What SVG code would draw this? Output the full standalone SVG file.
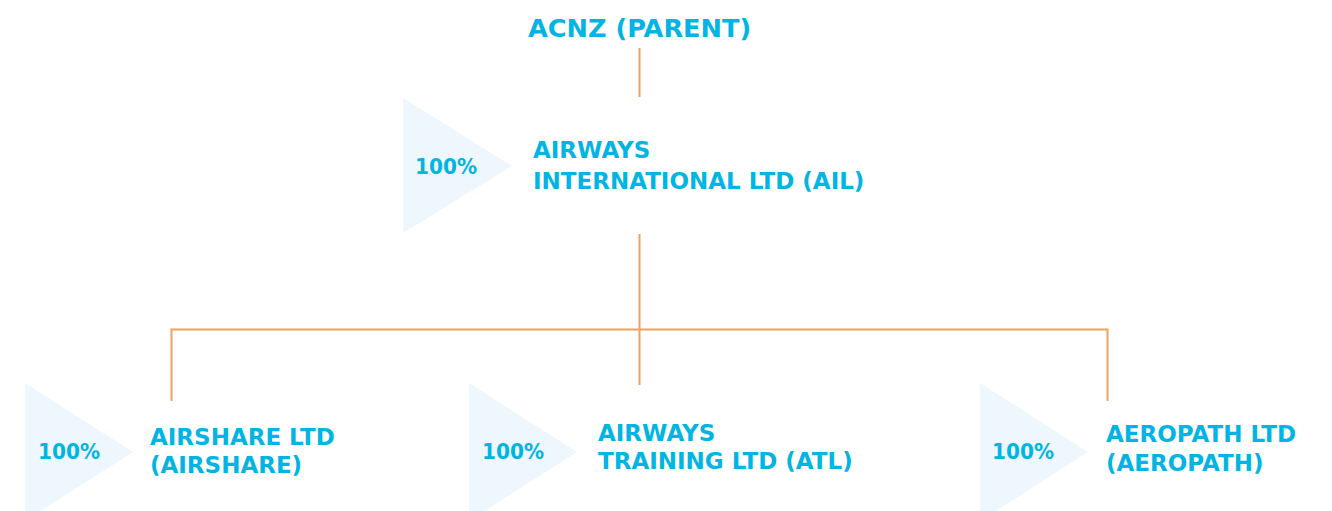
<svg xmlns="http://www.w3.org/2000/svg" width="1332" height="511" viewBox="0 0 1332 511">
  <style>
    .lbl { font-family: "DejaVu Sans", "Liberation Sans", sans-serif; font-weight: bold; fill: #00b4e3; font-size: 23px; }
    .pct { font-family: "DejaVu Sans", "Liberation Sans", sans-serif; font-weight: bold; fill: #00b4e3; font-size: 21.5px; }
    .title { font-size: 25.6px; }
    .tri { fill: #eef7fd; }
    .link { stroke: #f2a05c; stroke-width: 2; fill: none; }
  </style>

  <!-- ownership connectors -->
  <g id="connectors">
    <line class="link" x1="639.5" y1="48" x2="639.5" y2="97"/>
    <line class="link" x1="639.5" y1="234" x2="639.5" y2="385"/>
    <polyline class="link" points="171.5,401 171.5,329.5 1107.5,329.5 1107.5,401"/>
  </g>

  <g id="acnz">
    <text class="lbl title" x="528" y="37">ACNZ (PARENT)</text>
  </g>

  <g id="ail">
    <polygon class="tri" points="403,98 512,166 403,233"/>
    <text class="pct" x="415" y="174" textLength="62" lengthAdjust="spacingAndGlyphs">100%</text>
    <text class="lbl" x="533" y="158">AIRWAYS</text>
    <text class="lbl" x="533" y="189">INTERNATIONAL LTD (AIL)</text>
  </g>

  <g id="airshare">
    <polygon class="tri" points="25,383 133,452 25,521"/>
    <text class="pct" x="38" y="459" textLength="62" lengthAdjust="spacingAndGlyphs">100%</text>
    <text class="lbl" x="150" y="445">AIRSHARE LTD</text>
    <text class="lbl" x="150" y="473">(AIRSHARE)</text>
  </g>

  <g id="atl">
    <polygon class="tri" points="469,383 577,452 469,521"/>
    <text class="pct" x="482" y="459" textLength="62" lengthAdjust="spacingAndGlyphs">100%</text>
    <text class="lbl" x="598" y="441">AIRWAYS</text>
    <text class="lbl" x="598" y="469">TRAINING LTD (ATL)</text>
  </g>

  <g id="aeropath">
    <polygon class="tri" points="980,383 1088,452 980,521"/>
    <text class="pct" x="992" y="459" textLength="62" lengthAdjust="spacingAndGlyphs">100%</text>
    <text class="lbl" x="1106" y="442">AEROPATH LTD</text>
    <text class="lbl" x="1106" y="471">(AEROPATH)</text>
  </g>
</svg>
